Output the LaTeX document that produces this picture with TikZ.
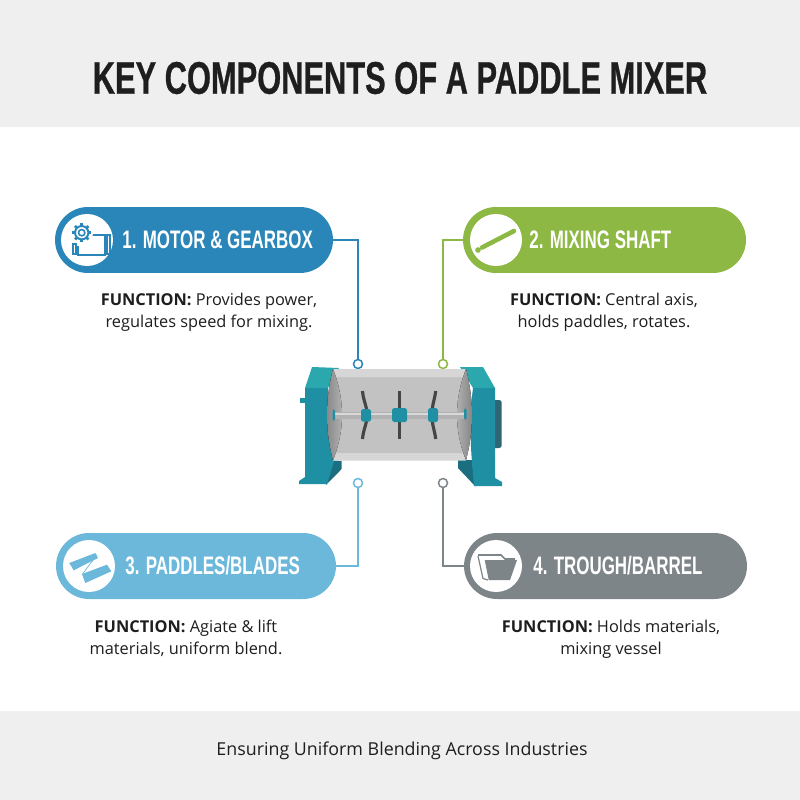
\documentclass[tikz,border=0pt]{standalone}
\usepackage{fontspec}
\setmainfont{Open Sans}
\newfontfamily\headfont[FakeStretch=0.67]{Liberation Sans}
\newfontfamily\titlefont[FakeStretch=0.675,FakeBold=0.6]{Liberation Sans}
\usetikzlibrary{shapes.misc}
\definecolor{motorblue}{HTML}{2A86B8}
\definecolor{shaftgreen}{HTML}{8CB843}
\definecolor{paddleblue}{HTML}{6CB8DA}
\definecolor{troughgray}{HTML}{7E8588}
\definecolor{bandgray}{HTML}{EFEFF0}
\definecolor{inkblack}{HTML}{1E1E1E}
\definecolor{tealfront}{HTML}{1F8FA3}
\definecolor{tealtop}{HTML}{2BA8AE}
\definecolor{tealdark}{HTML}{1A6E80}
\definecolor{motordark}{HTML}{2F6673}
\definecolor{drumgray}{HTML}{C2C2C2}
\definecolor{drumlight}{HTML}{D6D6D6}
\definecolor{bladedark}{HTML}{454545}
\tikzset{
  pill/.style={rounded rectangle,fill=#1,minimum height=1.32cm,inner sep=0pt,outer sep=0pt},
  iconspot/.style={circle,fill=white,minimum size=1.04cm,inner sep=0pt,outer sep=0pt},
  pilltext/.style={anchor=west,text=white,inner sep=0pt,font=\headfont\bfseries\fontsize{14.4}{16}\selectfont},
  functext/.style={align=center,text=inkblack,inner sep=0pt,font=\fontsize{9.3}{12.3}\selectfont},
  port/.style={circle,draw=#1,fill=white,line width=0.85pt,minimum size=0.18cm,inner sep=0pt,outer sep=0pt},
  wire/.style={draw=#1,line width=0.75pt},
}
\begin{document}
\begin{tikzpicture}[x=0.02cm,y=-0.02cm]
\useasboundingbox (0,0) rectangle (800,800);
\fill[white] (0,0) rectangle (800,800);
\fill[bandgray] (0,0) rectangle (800,127);
\fill[bandgray] (0,711) rectangle (800,800);
\node[inner sep=0pt,text=inkblack,font=\titlefont\bfseries\fontsize{26}{30}\selectfont] (title) at (400,78) {KEY COMPONENTS OF A PADDLE MIXER};
\node[inner sep=0pt,text=inkblack,font=\fontsize{10.15}{12}\selectfont] (footer) at (402,751) {Ensuring Uniform Blending Across Industries};
\node[pill=motorblue,minimum width=5.56cm] (pill1) at (194,240) {};
\node[pill=shaftgreen,minimum width=5.66cm] (pill2) at (604.5,240) {};
\node[pill=paddleblue,minimum width=5.60cm] (pill3) at (196,566) {};
\node[pill=troughgray,minimum width=5.66cm] (pill4) at (605.5,566) {};
\node[iconspot] (icon1) at (87,240) {};
\node[iconspot] (icon2) at (496,240) {};
\node[iconspot] (icon3) at (89,566) {};
\node[iconspot] (icon4) at (496,566) {};
\node[pilltext] (label1) at (122,240) {1. MOTOR \& GEARBOX};
\node[pilltext] (label2) at (529,240) {2. MIXING SHAFT};
\node[pilltext] (label3) at (125,566) {3. PADDLES/BLADES};
\node[pilltext] (label4) at (533,566) {4. TROUGH/BARREL};
\node[functext] (func1) at (209,312) {\textbf{FUNCTION:} Provides power,\\regulates speed for mixing.};
\node[functext] (func2) at (604,312) {\textbf{FUNCTION:} Central axis,\\holds paddles, rotates.};
\node[functext] (func3) at (186,638) {\textbf{FUNCTION:} Agiate \& lift\\materials, uniform blend.};
\node[functext] (func4) at (611,639) {\textbf{FUNCTION:} Holds materials,\\mixing vessel};
\node[port=motorblue] (port1) at (358,364) {};
\node[port=shaftgreen] (port2) at (443,364) {};
\node[port=paddleblue] (port3) at (358,483) {};
\node[port=troughgray] (port4) at (443,483) {};
\draw[wire=motorblue] (pill1.east) -| (port1.north);
\draw[wire=shaftgreen] (pill2.west) -| (port2.north);
\draw[wire=paddleblue] (pill3.east) -| (port3.south);
\draw[wire=troughgray] (pill4.west) -| (port4.south);
\draw[motorblue,line width=1pt] (92,235) -- (105,235) -- (105,255) -- (78,255) -- (78,246);
\draw[motorblue,line width=1pt] (107,235) rectangle (110,254);
\draw[motorblue,line width=1pt] (73,244) rectangle (76,254);
\fill[white] (81.7,232.7) circle (6.5pt);
\foreach \ang in {0,45,...,315} \draw[motorblue,line width=1.5pt] (81.7,232.7) ++(\ang:6.5) -- ++(\ang:3);
\draw[motorblue,line width=1.1pt] (81.7,232.7) circle (3.8pt);
\draw[motorblue,line width=0.9pt] (81.7,232.7) circle (1.8pt);
\draw[shaftgreen,line width=2.6pt,line cap=round] (482,247.5) -- (514,231);
\fill[shaftgreen] (478,250) circle (1.6pt);
\fill[paddleblue] (69.3,563) -- (95.3,553) -- (98,558) -- (73.7,570.3) -- cycle;
\fill[paddleblue] (82,574) -- (107,564.7) -- (111.3,571.3) -- (85.3,583) -- cycle;
\draw[paddleblue,line width=0.4pt] (97,554.7) -- (82,574.7);
\draw[troughgray,line width=1pt] (478,555) -- (501,555) -- (505,559) -- (515,559);
\fill[troughgray] (484.7,560) -- (517,560) -- (510,580) -- (488.7,580) -- cycle;
\draw[troughgray,line width=0.7pt] (478,556) -- (483,578.5) -- (488,580);
\fill[tealtop] (312,367) -- (339,368) -- (328,388) -- (305,388) -- cycle;
\fill[tealdark] (328,460) -- (341.7,461) -- (341.7,469) -- (326,485) -- cycle;
\fill[tealfront] (305,388) -- (328,388) .. controls (328,420) and (329,445) .. (334,462) -- (327,484) -- (299,484) -- (299,481) -- (305,477) -- cycle;
\fill[tealfront] (299.5,398) rectangle (305,403);
\fill[tealtop] (460,367) -- (483,367) -- (495,388) -- (473,388) -- cycle;
\fill[motordark,rounded corners=1.5pt] (492,400) rectangle (501.7,448);
\fill[tealdark] (458,460) -- (472,460) -- (475,486) -- (458,468) -- cycle;
\fill[tealfront] (473,388) -- (495,388) -- (495,478) -- (502,482) -- (502,486) -- (474,486) -- (472,462) .. controls (470,440) and (470,410) .. (473,388) -- cycle;
\fill[drumgray] (333,369) -- (466,369) -- (466,460) -- (333,460) -- cycle;
\fill[drumlight] (333,369) -- (466,369) -- (463,377) -- (336,377) -- cycle;
\fill[drumlight] (336,453) -- (463,453) -- (466,460.5) -- (333,460.5) -- cycle;
\fill[left color=black!48,right color=black!28] (333,369) .. controls (325,400) and (325,430) .. (333,460) .. controls (345,430) and (345,400) .. (333,369) -- cycle;
\fill[left color=black!28,right color=black!50] (466,369) .. controls (454,400) and (454,430) .. (466,460) .. controls (474,430) and (474,400) .. (466,369) -- cycle;
\fill[black!30] (334,412) rectangle (464,419);
\fill[black!15] (334,413) rectangle (464,415);
\fill[tealfront,rounded corners=1pt] (332.5,409) rectangle (335,421);
\fill[tealfront,rounded corners=1pt] (464,408) rectangle (466.5,420);
\draw[bladedark,line width=1.8pt] (362.5,391) .. controls (363,398) and (365,402) .. (366.5,409);
\draw[bladedark,line width=1.8pt] (366.5,421) .. controls (365,428) and (363,432) .. (362.5,439);
\draw[bladedark,line width=1.8pt] (399.5,391) -- (399.5,408);
\draw[bladedark,line width=1.8pt] (399.5,422) -- (399.5,439);
\draw[bladedark,line width=1.8pt] (435.7,391) .. controls (435,398) and (433,402) .. (432.3,409);
\draw[bladedark,line width=1.8pt] (432.3,421) .. controls (433,428) and (435,432) .. (435.7,439);
\fill[tealfront,rounded corners=1pt] (361,409) rectangle (371,421.7);
\fill[tealfront,rounded corners=1pt] (392,408) rectangle (407,422);
\fill[tealfront,rounded corners=1pt] (428,408) rectangle (438,422);
\end{tikzpicture}
\end{document}
